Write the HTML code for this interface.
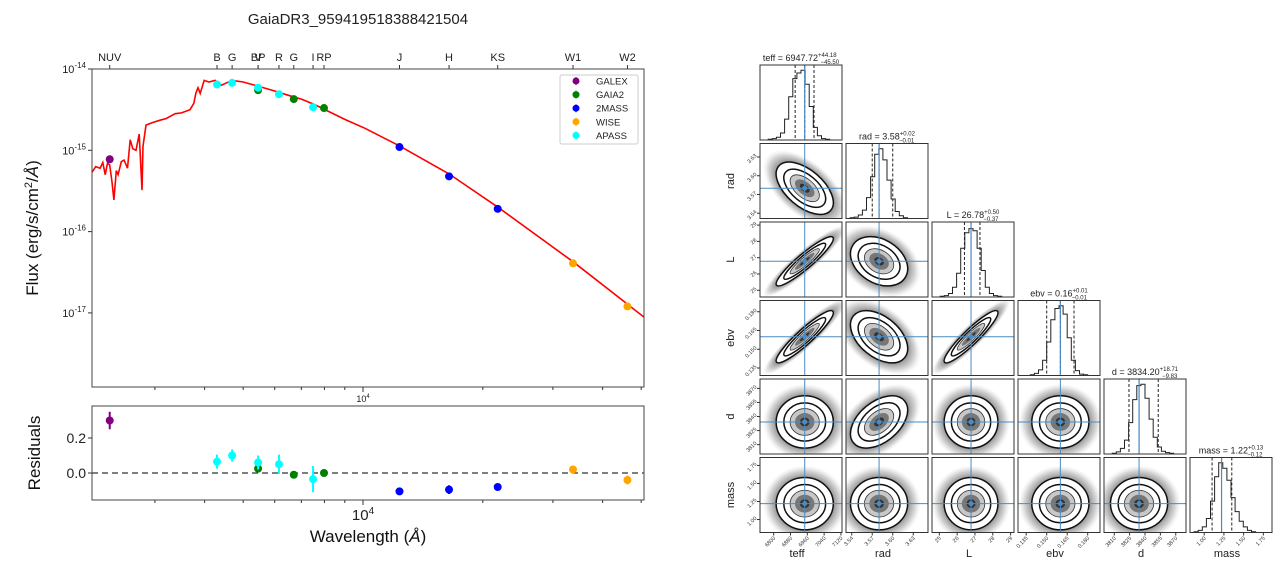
<!DOCTYPE html>
<html><head><meta charset="utf-8"><style>
html,body{margin:0;padding:0;background:#fff;}
svg{display:block;font-family:"Liberation Sans","DejaVu Sans",sans-serif;}
</style></head><body>
<svg id="fig" width="1288" height="568" viewBox="0 0 1288 568" xmlns="http://www.w3.org/2000/svg">
<defs>
<radialGradient id="cloud" cx="50%" cy="50%" r="50%">
<stop offset="0" stop-color="#555" stop-opacity="0.9"/>
<stop offset="0.7" stop-color="#777" stop-opacity="0.75"/>
<stop offset="0.85" stop-color="#999" stop-opacity="0.45"/>
<stop offset="1" stop-color="#ccc" stop-opacity="0"/>
</radialGradient>
</defs>
<text x="358" y="24" font-size="15" text-anchor="middle" fill="#222">GaiaDR3_959419518388421504</text>
<g id="sed"></g>
<g id="res"></g>
<g id="corner"></g>
</svg>
<script>
// ---- SED data ----
const bandNames = ["NUV","B","G","BP","V","R","G","I","RP","J","H","KS","W1","W2"];
const bandSurvey = ["GALEX","APASS","APASS","GAIA2","APASS","APASS","GAIA2","APASS","GAIA2","2MASS","2MASS","2MASS","WISE","WISE"];
const bandWave = [2310,4297,4690,5450,5450,6150,6700,7490,7980,12350,16450,21800,33700,46180];
const bandLogFlux = [-15.11,-14.19,-14.17,-14.26,-14.23,-14.31,-14.37,-14.47,-14.48,-14.96,-15.32,-15.72,-16.39,-16.92];
const residVals = [0.30,0.065,0.10,0.025,0.06,0.05,-0.01,-0.035,0.00,-0.105,-0.095,-0.08,0.02,-0.04];
const residErr = [0.05,0.04,0.035,0.01,0.04,0.055,0.01,0.075,0.01,0.02,0.025,0.015,0.02,0.025];
const modelWave = [2085,2130,2185,2220,2250,2280,2310,2340,2367,2400,2425,2470,2510,2560,2600,2640,2690,2740,2785,2800,2850,2950,3090,3200,3373,3500,3675,3760,3800,3850,3900,3990,4100,4250,4400,4690,5000,5445,6000,6556,7000,7500,8260,9000,10115,12390,16450,21830,33700,46370,50800];
const modelLogFlux = [-15.27,-15.20,-15.22,-15.15,-15.30,-15.16,-15.18,-15.38,-15.61,-15.25,-15.30,-15.14,-15.12,-15.22,-14.87,-14.98,-15.00,-14.80,-15.49,-14.95,-14.69,-14.66,-14.63,-14.61,-14.55,-14.54,-14.50,-14.42,-14.30,-14.23,-14.30,-14.14,-14.16,-14.14,-14.20,-14.14,-14.16,-14.21,-14.27,-14.33,-14.37,-14.43,-14.53,-14.62,-14.73,-14.95,-15.29,-15.70,-16.37,-16.90,-17.05];
const fluxTicks = [-14,-15,-16,-17];
const residTicks = [0.2,0.0];
const surveyNames = ["GALEX","GAIA2","2MASS","WISE","APASS"];
const surveyColors = {"GALEX":"purple","GAIA2":"green","2MASS":"blue","WISE":"orange","APASS":"cyan"};

const NS="http://www.w3.org/2000/svg";
function mk(parent,tag,attrs){const e=document.createElementNS(NS,tag);for(const k in attrs)e.setAttribute(k,attrs[k]);parent.appendChild(e);return e;}
const AX={l:92,r:644,t:69,b:387};
const RX={t:406,b:500};
function xw(w){return 363+398*Math.log10(w/1e4);}
function yf(lf){return 69+(-14-lf)*81.3;}
function yr(v){return 473-v*175;}

const sed=document.getElementById('sed');
let d="";modelWave.forEach((w,i)=>{d+=(i?"L":"M")+xw(w).toFixed(1)+","+yf(modelLogFlux[i]).toFixed(1);});
const clip=mk(sed,'clipPath',{id:'axclip'});mk(clip,'rect',{x:AX.l,y:AX.t,width:AX.r-AX.l,height:AX.b-AX.t});
const ml=mk(sed,'path',{d:d,stroke:'red','stroke-width':1.6,fill:'none','clip-path':'url(#axclip)'});


bandWave.forEach((w,i)=>{
  const c=surveyColors[bandSurvey[i]];
  const x=xw(w),y=yf(bandLogFlux[i]);
  const p=mk(sed,'circle',{cx:x,cy:y,r:4,fill:c});
  
  
  const t=mk(sed,'text',{x:x,y:61,'font-size':11,'text-anchor':'middle',fill:'#222'});t.textContent=bandNames[i];
  
  
  mk(sed,'line',{x1:x,x2:x,y1:AX.t,y2:AX.t-4,stroke:'#333'});
});
const fr=mk(sed,'rect',{x:AX.l,y:AX.t,width:AX.r-AX.l,height:AX.b-AX.t,fill:'none',stroke:'#444','stroke-width':1});


fluxTicks.forEach(v=>{
  const y=yf(v);mk(sed,'line',{x1:AX.l-4,x2:AX.l,y1:y,y2:y,stroke:'#333'});
  const t=mk(sed,'text',{x:AX.l-6,y:y+4,'font-size':11,'text-anchor':'end',fill:'#222'});
  t.innerHTML='10<tspan dy="-5" font-size="8">'+v+'</tspan>';
  
  
});
const minor=[2000,3000,4000,5000,6000,7000,8000,9000,20000,30000,40000,50000];
minor.forEach(w=>{const x=xw(w);if(x>AX.l&&x<AX.r){mk(sed,'line',{x1:x,x2:x,y1:AX.b,y2:AX.b+3,stroke:'#333'});mk(sed,'line',{x1:x,x2:x,y1:RX.b,y2:RX.b+3,stroke:'#333'});}});
mk(sed,'line',{x1:xw(1e4),x2:xw(1e4),y1:AX.b,y2:AX.b+5,stroke:'#333'});
let t4=mk(sed,'text',{x:xw(1e4),y:402,'font-size':9,'text-anchor':'middle',fill:'#222'});t4.innerHTML='10<tspan dy="-4" font-size="6">4</tspan>';
const yl=mk(sed,'text',{x:0,y:0,'font-size':17,'text-anchor':'middle',fill:'#111',transform:'translate(38,228) rotate(-90)'});
yl.innerHTML='Flux (erg/s/cm<tspan dy="-6" font-size="11">2</tspan><tspan dy="6">/</tspan><tspan font-style="italic">Å</tspan>)';


const lg=mk(sed,'g',{});


mk(lg,'rect',{x:560,y:75,width:78,height:69,fill:'#fff',stroke:'#ccc',rx:2});
surveyNames.forEach((s,i)=>{
  const y=81+i*13.6;
  const c=surveyColors[s];
  mk(lg,'line',{x1:576,x2:576,y1:y-4,y2:y+4,stroke:c,'stroke-width':1});
  mk(lg,'circle',{cx:576,cy:y,r:3.5,fill:c});
  const t=mk(lg,'text',{x:596,y:y+3.5,'font-size':9.5,fill:'#222'});t.textContent=s;
  
  
});

const res=document.getElementById('res');
mk(res,'line',{x1:AX.l,x2:AX.r,y1:yr(0),y2:yr(0),stroke:'#333','stroke-dasharray':'6,4','stroke-width':1.3});
bandWave.forEach((w,i)=>{
  const c=surveyColors[bandSurvey[i]];const x=xw(w);
  mk(res,'line',{x1:x,x2:x,y1:yr(residVals[i]+residErr[i]),y2:yr(residVals[i]-residErr[i]),stroke:c,'stroke-width':2});
  const p=mk(res,'circle',{cx:x,cy:yr(residVals[i]),r:4,fill:c});
  
  
});
mk(res,'rect',{x:AX.l,y:RX.t,width:AX.r-AX.l,height:RX.b-RX.t,fill:'none',stroke:'#444'});
residTicks.forEach(v=>{const y=yr(v);mk(res,'line',{x1:AX.l-4,x2:AX.l,y1:y,y2:y,stroke:'#333'});
  const t=mk(res,'text',{x:AX.l-6,y:y+5,'font-size':14,'text-anchor':'end',fill:'#222'});t.textContent=v.toFixed(1);
  
  });
mk(res,'line',{x1:xw(1e4),x2:xw(1e4),y1:RX.b,y2:RX.b+5,stroke:'#333'});
let t5=mk(res,'text',{x:xw(1e4),y:520,'font-size':15,'text-anchor':'middle',fill:'#222'});t5.innerHTML='10<tspan dy="-6" font-size="10">4</tspan>';
const rl=mk(res,'text',{x:0,y:0,'font-size':17,'text-anchor':'middle',fill:'#111',transform:'translate(40,453) rotate(-90)'});rl.textContent='Residuals';


const xl=mk(res,'text',{x:368,y:542,'font-size':17,'text-anchor':'middle',fill:'#111'});xl.innerHTML='Wavelength (<tspan font-style="italic">Å</tspan>)';



// ---- corner data ----
const params = ["teff","rad","L","ebv","d","mass"];
const medians = [6947.72,3.58,26.78,0.16,3834.20,1.22];
const errLo = [45.50,0.01,0.37,0.01,9.83,0.12];
const errHi = [44.18,0.02,0.50,0.01,18.71,0.13];
const rangeMin = [6735,3.5316,24.59,0.129,3800,0.82];
const rangeMax = [7125,3.6516,29.19,0.189,3880,1.86];
const sigmaFrac = [0.17,0.17,0.16,0.17,0.17,0.17];
const tickVals = [[6800,6880,6960,7040,7120],[3.54,3.57,3.60,3.63],[25,26,27,28,29],[0.135,0.150,0.165,0.180],[3810,3825,3840,3855,3870],[1.00,1.25,1.50,1.75]];
const tickText = [["6800","6880","6960","7040","7120"],["3.54","3.57","3.60","3.63"],["25","26","27","28","29"],["0.135","0.150","0.165","0.180"],["3810","3825","3840","3855","3870"],["1.00","1.25","1.50","1.75"]];
const histTeff = [0,0,1,2,4,10,30,62,88,96,100,80,48,18,6,2,1,0,0,0];
const histRad = [0,1,2,5,12,30,60,92,100,84,55,28,10,4,1,0,0,0,0,0];
const histL = [0,0,1,2,5,14,34,70,92,98,95,70,38,14,5,2,1,0,0,0];
const histEbv = [0,0,0,1,3,8,22,48,80,96,100,88,54,22,7,2,1,0,0,0];
const histD = [0,0,1,3,8,20,45,78,98,100,80,50,24,10,4,2,1,0,0,0];
const histMass = [0,1,3,8,20,45,80,100,92,75,50,30,16,8,3,1,0,0,0,0];
const hists = [histTeff,histRad,histL,histEbv,histD,histMass];
const corr = [[1,-0.55,0.92,0.92,0,0],[-0.55,1,-0.3,-0.45,0.45,0],[0.92,-0.3,1,0.92,0,0],[0.92,-0.45,0.92,1,0,0],[0,0.45,0,0,1,0],[0,0,0,0,0,1]];

const colX=[760,846,932,1018,1104,1190], rowY=[65,143.5,222,300.5,379,457.5], PW=82, PH=75;
const BLUE="#4a8bc4";
const cg=document.getElementById('corner');
function fx(i,v){return (v-rangeMin[i])/(rangeMax[i]-rangeMin[i]);}
for(let r=0;r<6;r++){
  for(let c=0;c<=r;c++){
    const x0=colX[c],y0=rowY[r];
    const g=mk(cg,'g',{});
    
    
    if(r===c){
      const h=hists[r];const n=h.length;const bw=PW/n;
      let p="M"+x0+","+(y0+PH);
      h.forEach((v,k)=>{const y=y0+PH-v/100*PH*0.93;p+="L"+(x0+k*bw).toFixed(1)+","+y.toFixed(1)+"L"+(x0+(k+1)*bw).toFixed(1)+","+y.toFixed(1);});
      const hp=mk(g,'path',{d:p,fill:'none',stroke:'#222','stroke-width':1});
      
      
      [medians[r]-errLo[r],medians[r],medians[r]+errHi[r]].forEach(v=>{const xx=x0+fx(r,v)*PW;mk(g,'line',{x1:xx,x2:xx,y1:y0,y2:y0+PH,stroke:'#222','stroke-dasharray':'3,2'});});
      const mx=x0+fx(r,medians[r])*PW;mk(g,'line',{x1:mx,x2:mx,y1:y0,y2:y0+PH,stroke:BLUE,'stroke-width':1.2});
      const tt=mk(cg,'text',{x:x0+PW/2,y:y0-4,'font-size':9,'text-anchor':'middle',fill:'#222'});
      tt.innerHTML=params[r]+' = '+medians[r].toFixed(2)+'<tspan font-size="6" dy="-4">+'+errHi[r].toFixed(2)+'</tspan><tspan font-size="6" dx="-16" dy="7">−'+errLo[r].toFixed(2)+'</tspan>';
      
      
    } else {
      const cx=x0+fx(c,medians[c])*PW, cy=y0+PH-fx(r,medians[r])*PH;
      const sx=sigmaFrac[c]*PW, sy=sigmaFrac[r]*PH, rho=corr[r][c];
      const a=sx*sx, b=-rho*sx*sy, dd=sy*sy;
      const tr=(a+dd)/2, det=Math.sqrt(((a-dd)/2)**2+b*b);
      const l1=tr+det, l2=Math.max(tr-det,1);
      const rot=(Math.abs(b)<1e-6)?0:Math.atan2(l1-a,b)*180/Math.PI;
      const clipId='cp'+r+c;const cp=mk(g,'clipPath',{id:clipId});mk(cp,'rect',{x:x0,y:y0,width:PW,height:PH});
      const eg=mk(g,'g',{'clip-path':'url(#'+clipId+')'});
      const E=(k,attrs)=>mk(eg,'ellipse',Object.assign({cx:cx,cy:cy,rx:k*Math.sqrt(l1),ry:k*Math.sqrt(l2),transform:'rotate('+rot+' '+cx+' '+cy+')'},attrs));
      E(3.0,{fill:'url(#cloud)'});
      E(2.05,{fill:'#fff',stroke:'#111','stroke-width':1.5});
      E(1.5,{fill:'#fff',stroke:'#111','stroke-width':1.5});
      E(1.05,{fill:'#c8c8c8',stroke:'#333','stroke-width':0.8});
      E(0.7,{fill:'#777'});
      E(0.35,{fill:'#333'});
      mk(g,'line',{x1:cx,x2:cx,y1:y0,y2:y0+PH,stroke:BLUE,'stroke-width':1});
      mk(g,'line',{x1:x0,x2:x0+PW,y1:cy,y2:cy,stroke:BLUE,'stroke-width':1});
      mk(g,'circle',{cx:cx,cy:cy,r:2.5,fill:BLUE});
    }
    mk(g,'rect',{x:x0,y:y0,width:PW,height:PH,fill:'none',stroke:'#333','stroke-width':1});
    if(r===5){
      tickVals[c].forEach((v,k)=>{const xx=x0+fx(c,v)*PW;mk(cg,'line',{x1:xx,x2:xx,y1:y0+PH,y2:y0+PH+3,stroke:'#333'});
        const t=mk(cg,'text',{x:0,y:0,'font-size':5.5,'text-anchor':'end',fill:'#333',transform:'translate('+(xx+2)+','+(y0+PH+6)+') rotate(-45)'});t.textContent=tickText[c][k];});
    }
    if(c===0 && r>0){
      tickVals[r].forEach((v,k)=>{const yy=y0+PH-fx(r,v)*PH;mk(cg,'line',{x1:x0-3,x2:x0,y1:yy,y2:yy,stroke:'#333'});
        const t=mk(cg,'text',{x:0,y:0,'font-size':5.5,'text-anchor':'end',fill:'#333',transform:'translate('+(x0-3)+','+(yy-1)+') rotate(-45)'});t.textContent=tickText[r][k];});
    }
  }
}
params.forEach((p,i)=>{
  const t=mk(cg,'text',{x:colX[i]+PW/2-4,y:557,'font-size':11,'text-anchor':'middle',fill:'#222'});t.textContent=p;
  
  
  if(i>0){const t2=mk(cg,'text',{x:0,y:0,'font-size':11,'text-anchor':'middle',fill:'#222',transform:'translate(734,'+(rowY[i]+PH/2)+') rotate(-90)'});t2.textContent=p;
  
  }
});
</script>
</body></html>
